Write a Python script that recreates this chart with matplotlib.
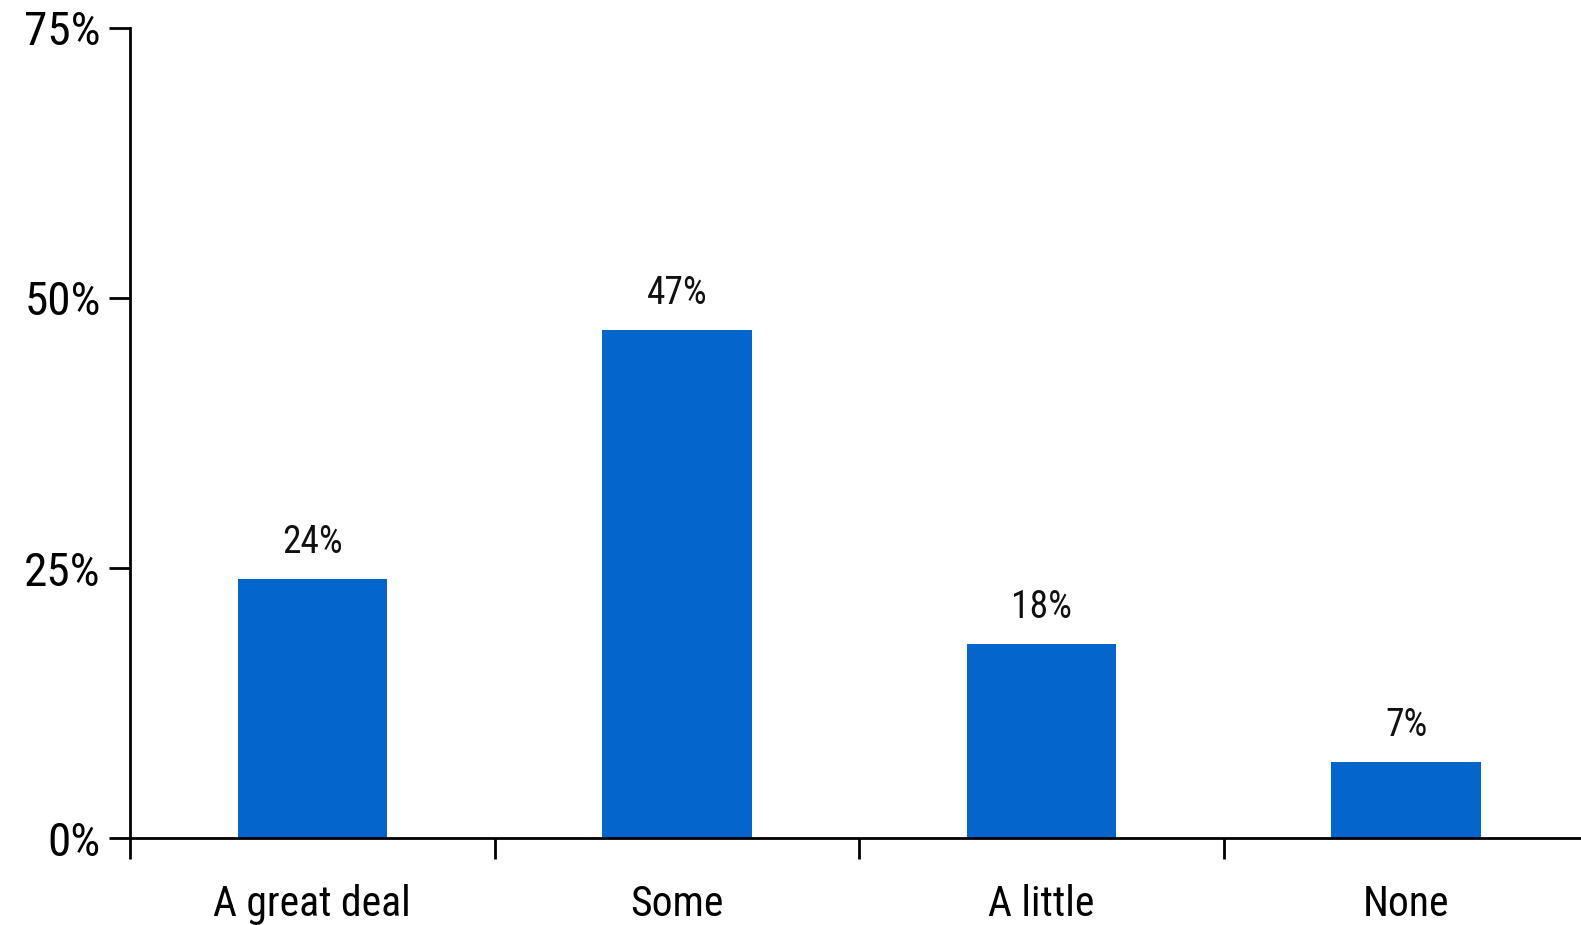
import matplotlib
matplotlib.use("Agg")
import matplotlib.pyplot as plt
from matplotlib.ticker import FuncFormatter

categories = ["A great deal", "Some", "A little", "None"]
values = [24, 47, 18, 7]
yticks = [0, 25, 50, 75]

plt.rcParams['font.family'] = ['Roboto Condensed', 'Archivo Narrow', 'PT Sans Narrow', 'DejaVu Sans']

fig = plt.figure(figsize=(15.81, 9.25), dpi=100)
ax = fig.add_axes([130/1581, (925-838)/925, (1581-130)/1581, (838-28)/925])

x = range(len(categories))
ax.bar(x, values, width=0.41, color="#0466CC", zorder=2)
for xi, v in zip(x, values):
    ax.annotate(f"{v}%", (xi, v), xytext=(0, 13), textcoords="offset points",
                ha="center", va="bottom", fontsize=27, color="#111111")

ax.set_xlim(-0.5, 3.48)
ax.set_ylim(0, 75)
ax.set_yticks(yticks)
ax.yaxis.set_major_formatter(FuncFormatter(lambda v, p: f"{int(v)}%"))
ax.set_xticks([i - 0.5 for i in range(len(categories))])
ax.set_xticklabels([])
ax.set_xticks(list(x), minor=True)
ax.set_xticklabels(categories, minor=True, fontsize=30)
ax.tick_params(axis='x', which='minor', length=0, pad=33)
ax.tick_params(axis='x', which='major', length=15, width=2, direction='out')
ax.tick_params(axis='y', length=15, width=2, labelsize=34, pad=6)

for s in ['top', 'right']:
    ax.spines[s].set_visible(False)
for s in ['left', 'bottom']:
    ax.spines[s].set_linewidth(2)
    ax.spines[s].set_color("black")

fig.savefig("out.png", dpi=100)
